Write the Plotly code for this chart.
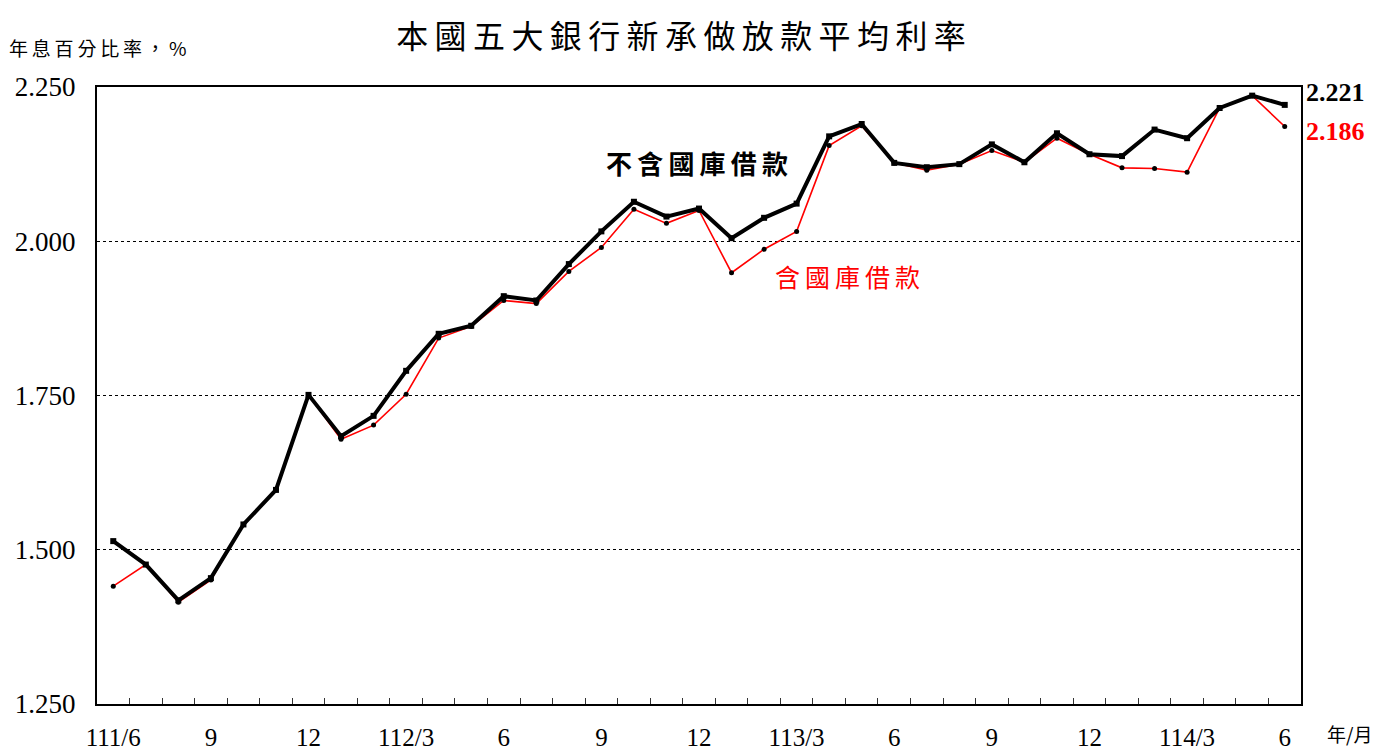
import plotly.graph_objects as go

months = ["111/6", "7", "8", "9", "10", "11", "12",
          "112/1", "2", "3", "4", "5", "6", "7", "8", "9", "10", "11", "12",
          "113/1", "2", "3", "4", "5", "6", "7", "8", "9", "10", "11", "12",
          "114/1", "2", "3", "4", "5", "6"]
tick_labels = ["111/6", "9", "12", "112/3", "6", "9", "12", "113/3", "6", "9", "12", "114/3", "6"]

excl_treasury = [1.514, 1.476, 1.418, 1.454, 1.541, 1.597, 1.751,
                 1.684, 1.717, 1.790, 1.850, 1.863, 1.911, 1.904, 1.963, 2.016, 2.064, 2.040, 2.053,
                 2.005, 2.038, 2.061, 2.170, 2.190, 2.127, 2.120, 2.125, 2.157, 2.128, 2.175, 2.141,
                 2.138, 2.181, 2.167, 2.216, 2.236, 2.221]
incl_treasury = [1.441, 1.476, 1.415, 1.451, 1.541, 1.597, 1.751,
                 1.679, 1.702, 1.752, 1.843, 1.862, 1.904, 1.899, 1.951, 1.990, 2.052, 2.029, 2.050,
                 1.949, 1.987, 2.016, 2.155, 2.187, 2.127, 2.115, 2.125, 2.147, 2.128, 2.167, 2.141,
                 2.119, 2.118, 2.112, 2.216, 2.236, 2.186]

xs = list(range(len(months)))
tick_pos = [xs[i] for i in range(0, len(months), 3)]
boundaries = [x + 0.5 for x in xs[:-1]]

CJK = "Noto Sans CJK TC"
SERIF = "Liberation Serif, Times New Roman, serif"
TS = "\u2009"  # thin space to mimic the wide character spacing


def spaced(s):
    return TS.join(list(s))


# page body has an 8px margin, so the figure is laid out 8px up/left of the target
OFF = 8
PL, PT, PW, PH = 97 - OFF, 87 - OFF, 1204, 617

fig = go.Figure()
fig.add_trace(go.Scatter(
    x=xs, y=incl_treasury, mode="lines+markers", name="含國庫借款",
    line=dict(color="#ff0000", width=1.6),
    marker=dict(symbol="circle", size=5, color="black"),
    customdata=months, hovertemplate="%{customdata}: %{y:.3f}<extra></extra>"))
fig.add_trace(go.Scatter(
    x=xs, y=excl_treasury, mode="lines+markers", name="不含國庫借款",
    line=dict(color="black", width=4),
    marker=dict(symbol="square", size=6, color="black"),
    customdata=months, hovertemplate="%{customdata}: %{y:.3f}<extra></extra>"))
# invisible trace to carry the secondary x-axis that draws month-boundary ticks
fig.add_trace(go.Scatter(
    x=xs, y=excl_treasury, mode="lines", xaxis="x2", line=dict(width=0),
    opacity=0, hoverinfo="skip", showlegend=False))

fig.update_layout(
    width=1381, height=754,
    paper_bgcolor="white", plot_bgcolor="white",
    margin=dict(l=PL, r=1381 - PL - PW, t=PT, b=754 - PT - PH),
    showlegend=False,
    title=dict(text=spaced("本國五大銀行新承做放款平均利率"), xref="container",
               x=(681 - OFF) / 1381, y=1 - (37 - OFF) / 754, yanchor="middle", xanchor="center",
               font=dict(family=CJK, size=32, color="black")),
    xaxis=dict(
        range=[-0.5, len(months) - 0.5],
        tickvals=tick_pos, ticktext=tick_labels,
        ticks="", ticklabelstandoff=10, automargin=False,
        tickfont=dict(family=SERIF, size=25, color="black"),
        showgrid=False, zeroline=False,
        showline=True, linecolor="black", linewidth=2, mirror=True,
    ),
    xaxis2=dict(overlaying="x", side="bottom", range=[-0.5, len(months) - 0.5],
                tickvals=boundaries, ticks="inside", ticklen=6, tickwidth=1,
                tickcolor="#333333", showticklabels=False, showgrid=False,
                zeroline=False, showline=False, automargin=False),
    yaxis=dict(
        range=[1.25, 2.25], tickvals=[1.25, 1.5, 1.75, 2.0, 2.25],
        tickformat=".3f", ticks="", ticklabelstandoff=14, automargin=False,
        tickfont=dict(family=SERIF, size=27, color="black"),
        showgrid=True, gridcolor="black", gridwidth=1, griddash="dot",
        zeroline=False,
        showline=True, linecolor="black", linewidth=2, mirror=True,
    ),
)

# y-axis unit label
fig.add_annotation(text=spaced("年息百分比率，") + " %", xref="paper", yref="paper",
                   x=(7 - 97) / PW, y=(704 - 48) / PH, xanchor="left", yanchor="middle",
                   showarrow=False, font=dict(family=CJK, size=19, color="black"))
# x-axis unit label
fig.add_annotation(text="年/月", xref="paper", yref="paper",
                   x=(1325 - 97) / PW, y=(704 - 733) / PH, xanchor="left", yanchor="middle",
                   showarrow=False, font=dict(family=CJK, size=19, color="black"))
# series labels
fig.add_annotation(text="<b>" + spaced("不含國庫借款") + "</b>", x=17.94, y=2.127, xref="x", yref="y",
                   showarrow=False, font=dict(family=CJK, size=26, color="black"))
fig.add_annotation(text=spaced("含國庫借款"), x=22.55, y=1.944, xref="x", yref="y",
                   showarrow=False, font=dict(family=CJK, size=25, color="#ff0000"))
# last-value labels
fig.add_annotation(text="<b>%.3f</b>" % excl_treasury[-1], x=len(months) - 0.5, y=excl_treasury[-1],
                   xref="x", yref="y", xanchor="left", yanchor="middle", xshift=3, yshift=12,
                   showarrow=False, font=dict(family=SERIF, size=26, color="black"))
fig.add_annotation(text="<b>%.3f</b>" % incl_treasury[-1], x=len(months) - 0.5, y=incl_treasury[-1],
                   xref="x", yref="y", xanchor="left", yanchor="middle", xshift=3, yshift=-5,
                   showarrow=False, font=dict(family=SERIF, size=26, color="#ff0000"))

fig.write_html("out.html")
